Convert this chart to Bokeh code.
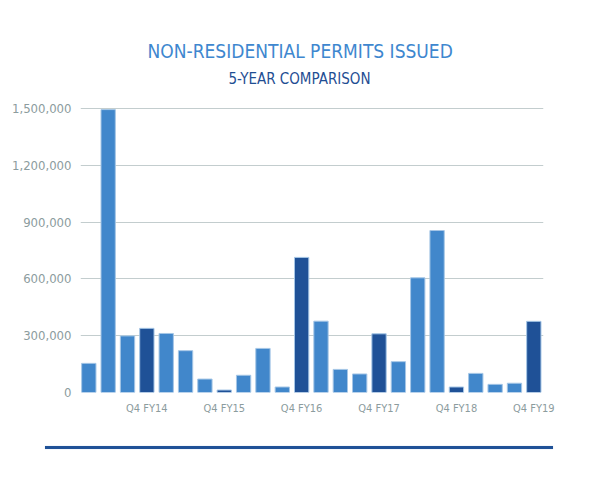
from bokeh.plotting import figure
from bokeh.layouts import column
from bokeh.models import FixedTicker, Title, ColumnDataSource, NumeralTickFormatter, Div
from bokeh.embed import file_html
from bokeh.resources import INLINE

quarters = [f"Q{q} FY{y}" for y in range(14, 20) for q in range(1, 5)]
values = [154000, 1495000, 299000, 339000, 312000, 221000, 71000, 13000,
          91000, 233000, 29000, 714000, 377000, 122000, 98000, 310000,
          163000, 606000, 856000, 29000, 101000, 43000, 49000, 376000]
tick_labels = ["Q4 FY14", "Q4 FY15", "Q4 FY16", "Q4 FY17", "Q4 FY18", "Q4 FY19"]
y_ticks = [0, 300000, 600000, 900000, 1200000, 1500000]

LIGHT = "#4187CB"
DARK = "#1F5197"
colors = [DARK if q.startswith("Q4") else LIGHT for q in quarters]
xs = list(range(len(quarters)))
src = ColumnDataSource(dict(x=xs, top=values, color=colors, q=quarters))

FONT = "DejaVu Sans Condensed"

p = figure(width=584, height=432, output_backend="svg", toolbar_location=None,
           x_range=(-0.43, 23.5), y_range=(0, 1522000),
           min_border_left=80, min_border_right=41, min_border_top=104, min_border_bottom=40,
           outline_line_color=None, title=None)

p.vbar(x="x", top="top", width=0.74, color="color", line_color="#A5C6E6", line_width=1, source=src)

# titles
sub = Title(text="5-YEAR COMPARISON", align="left", offset=148, standoff=32,
            vertical_align="middle",
            text_font=FONT, text_font_size="15px", text_font_style="normal", text_color="#1F4E93")
p.add_layout(sub, "above")
main = Title(text="NON-RESIDENTIAL PERMITS ISSUED", align="left", offset=67, standoff=-19,
             text_font=FONT, text_font_size="19px", text_font_style="normal", text_color="#3E87CF")
p.add_layout(main, "above")

# axes
q4_idx = [i for i, q in enumerate(quarters) if q.startswith("Q4")]
p.xaxis.ticker = FixedTicker(ticks=q4_idx)
p.xaxis.major_label_overrides = {i: lab for i, lab in zip(q4_idx, tick_labels)}
p.yaxis.ticker = FixedTicker(ticks=y_ticks)
p.yaxis.formatter = NumeralTickFormatter(format="0,0")
for ax in (p.xaxis, p.yaxis):
    ax.axis_line_color = None
    ax.major_tick_line_color = None
    ax.minor_tick_line_color = None
    ax.major_tick_out = 0
    ax.major_tick_in = 0
    ax.minor_tick_out = 0
    ax.minor_tick_in = 0
    ax.major_label_text_font = FONT
    ax.major_label_text_color = "#8C9C9E"
p.xaxis.major_label_text_font_size = "11px"
p.yaxis.major_label_text_font_size = "13px"
p.xaxis.major_label_standoff = 9
p.yaxis.major_label_standoff = 9

p.xgrid.grid_line_color = None
p.ygrid.grid_line_color = "#C3CDCE"
p.ygrid.grid_line_width = 1

# bottom decorative rule
rule = Div(text='<div style="margin-left:40px;margin-top:-3px;width:508px;height:3px;'
                'background:#1F5197;box-shadow:0 0 1px #9DB5DA;"></div>',
           width=584, height=12)

layout = column(p, rule, spacing=0)
open("out.html", "w").write(file_html(layout, INLINE))
